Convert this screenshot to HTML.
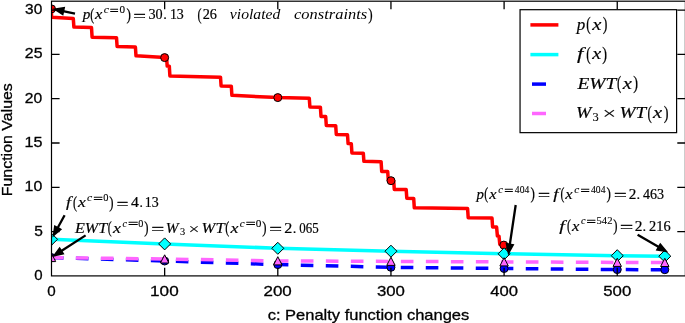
<!DOCTYPE html>
<html><head><meta charset="utf-8"><title>chart</title>
<style>
html,body{margin:0;padding:0;background:#fff;}
svg{display:block;}
.si{font-family:"Liberation Serif",serif;font-style:italic;}
.sr{font-family:"Liberation Serif",serif;}
.ss{font-family:"Liberation Sans",sans-serif;}
text{fill:#000;stroke:#000;}
</style></head><body>
<svg width="685" height="323" viewBox="0 0 685 323">
<rect x="0" y="0" width="685" height="323" fill="#fff"/>
<defs><clipPath id="ax"><rect x="51.5" y="1.2" width="633.9" height="274.7"/></clipPath></defs>
<g clip-path="url(#ax)" fill="none" stroke-linejoin="round">
<polyline points="51.50,8.90 51.50,17.30 73.30,18.60 73.90,27.10 91.50,27.60 92.10,37.20 116.50,37.70 117.10,46.50 135.40,47.00 136.00,55.80 164.85,57.60 166.60,57.80 167.20,66.00 169.30,66.20 169.90,75.90 220.50,77.20 221.10,86.00 231.30,86.20 231.90,95.30 278.00,97.60 309.30,98.30 309.90,107.00 320.40,107.20 321.00,116.40 325.70,116.50 326.30,125.50 335.70,125.70 336.30,134.50 347.50,134.80 348.10,143.60 351.30,143.70 351.90,152.90 363.30,153.20 363.90,161.30 381.10,161.70 381.70,171.40 387.70,171.50 388.30,180.50 391.15,180.70 393.70,180.80 394.30,189.40 406.20,189.60 406.80,198.20 413.70,198.40 414.30,207.80 467.60,208.60 468.20,217.70 492.00,218.00 492.60,227.00 496.60,227.10 497.40,236.00 499.00,236.20 499.80,244.40 504.00,245.10 506.00,245.50 508.40,253.60" stroke="#ff0000" stroke-width="3.5"/>
<circle cx="51.50" cy="8.90" r="4" fill="#ff0000" stroke="#000" stroke-width="1"/>
<circle cx="164.65" cy="57.60" r="4" fill="#ff0000" stroke="#000" stroke-width="1"/>
<circle cx="277.80" cy="97.60" r="4" fill="#ff0000" stroke="#000" stroke-width="1"/>
<circle cx="391.00" cy="180.70" r="4" fill="#ff0000" stroke="#000" stroke-width="1"/>
<circle cx="503.80" cy="245.10" r="4" fill="#ff0000" stroke="#000" stroke-width="1"/>
<polyline points="51.50,239.30 164.65,243.90 277.80,248.30 390.95,251.20 504.10,253.80 617.25,255.70 664.80,256.20" stroke="#00ffff" stroke-width="3.5"/>
<polygon points="51.50,233.30 57.50,239.30 51.50,245.30 45.50,239.30" fill="#00ffff" stroke="#000" stroke-width="1"/>
<polygon points="164.65,237.90 170.65,243.90 164.65,249.90 158.65,243.90" fill="#00ffff" stroke="#000" stroke-width="1"/>
<polygon points="277.80,242.30 283.80,248.30 277.80,254.30 271.80,248.30" fill="#00ffff" stroke="#000" stroke-width="1"/>
<polygon points="390.95,245.20 396.95,251.20 390.95,257.20 384.95,251.20" fill="#00ffff" stroke="#000" stroke-width="1"/>
<polygon points="504.10,247.80 510.10,253.80 504.10,259.80 498.10,253.80" fill="#00ffff" stroke="#000" stroke-width="1"/>
<polygon points="617.25,249.70 623.25,255.70 617.25,261.70 611.25,255.70" fill="#00ffff" stroke="#000" stroke-width="1"/>
<polygon points="664.80,250.20 670.80,256.20 664.80,262.20 658.80,256.20" fill="#00ffff" stroke="#000" stroke-width="1"/>
<polyline points="51.50,257.60 164.65,261.00 277.80,264.60 390.95,267.30 504.10,268.50 617.25,269.60 664.80,269.70" stroke="#0000ff" stroke-width="3.5" stroke-dasharray="12.6 12.4" stroke-dashoffset="0.6"/>
<circle cx="51.50" cy="257.60" r="4" fill="#0000ff" stroke="#000" stroke-width="1"/>
<circle cx="164.65" cy="261.00" r="4" fill="#0000ff" stroke="#000" stroke-width="1"/>
<circle cx="277.80" cy="264.60" r="4" fill="#0000ff" stroke="#000" stroke-width="1"/>
<circle cx="390.95" cy="267.30" r="4" fill="#0000ff" stroke="#000" stroke-width="1"/>
<circle cx="504.10" cy="268.50" r="4" fill="#0000ff" stroke="#000" stroke-width="1"/>
<circle cx="617.25" cy="269.60" r="4" fill="#0000ff" stroke="#000" stroke-width="1"/>
<circle cx="664.80" cy="269.70" r="4" fill="#0000ff" stroke="#000" stroke-width="1"/>
<polyline points="51.50,257.60 164.65,259.00 277.80,260.90 390.95,261.40 504.10,261.90 617.25,262.40 664.80,262.50" stroke="#ff66ff" stroke-width="3.5" stroke-dasharray="12.6 12.4" stroke-dashoffset="0.6"/>
<polygon points="51.50,253.40 55.70,261.60 47.30,261.60" fill="#ff66ff" stroke="#000" stroke-width="1"/>
<polygon points="164.65,254.80 168.85,263.00 160.45,263.00" fill="#ff66ff" stroke="#000" stroke-width="1"/>
<polygon points="277.80,256.70 282.00,264.90 273.60,264.90" fill="#ff66ff" stroke="#000" stroke-width="1"/>
<polygon points="390.95,257.20 395.15,265.40 386.75,265.40" fill="#ff66ff" stroke="#000" stroke-width="1"/>
<polygon points="504.10,257.70 508.30,265.90 499.90,265.90" fill="#ff66ff" stroke="#000" stroke-width="1"/>
<polygon points="617.25,258.20 621.45,266.40 613.05,266.40" fill="#ff66ff" stroke="#000" stroke-width="1"/>
<polygon points="664.80,258.30 669.00,266.50 660.60,266.50" fill="#ff66ff" stroke="#000" stroke-width="1"/>
</g>
<g stroke="#000" stroke-width="1.2" fill="none">
<rect x="51.5" y="1.2" width="633.9" height="274.7"/>
<path d="M164.65,275.9 v-8.1 M164.65,1.2 v8.1 M277.80,275.9 v-8.1 M277.80,1.2 v8.1 M390.95,275.9 v-8.1 M390.95,1.2 v8.1 M504.10,275.9 v-8.1 M504.10,1.2 v8.1 M617.25,275.9 v-8.1 M617.25,1.2 v8.1 M51.5,231.60 h8.1 M685.4,231.60 h-8.1 M51.5,187.30 h8.1 M685.4,187.30 h-8.1 M51.5,143.00 h8.1 M685.4,143.00 h-8.1 M51.5,98.70 h8.1 M685.4,98.70 h-8.1 M51.5,54.40 h8.1 M685.4,54.40 h-8.1 M51.5,10.10 h8.1 M685.4,10.10 h-8.1" stroke-width="1.3"/>
</g>
<polygon points="75.24,12.48 64.47,10.13 65.18,6.86 52.50,8.70 63.27,15.65 63.98,12.38 74.76,14.72" fill="#000"/>
<polygon points="63.59,214.75 57.15,226.52 54.21,224.91 52.40,237.60 62.11,229.23 59.17,227.62 65.61,215.85" fill="#000"/>
<polygon points="84.98,234.43 61.47,249.54 59.66,246.73 52.00,257.00 64.53,254.30 62.72,251.48 86.22,236.37" fill="#000"/>
<polygon points="514.56,204.83 508.83,243.36 505.52,242.87 508.20,255.40 514.42,244.19 511.10,243.70 516.84,205.17" fill="#000"/>
<polygon points="637.02,235.79 657.34,247.58 655.66,250.47 668.30,252.60 660.18,242.69 658.50,245.59 638.18,233.81" fill="#000"/>
<rect x="520.05" y="9.7" width="156.55" height="122.95" fill="#fff" stroke="#000" stroke-width="1.2"/>
<path d="M530.4,24.9 H558.4" stroke="#ff0000" stroke-width="3.5"/>
<path d="M530.4,54.6 H558.4" stroke="#00ffff" stroke-width="3.5"/>
<path d="M532.0,84.1 H546.0" stroke="#0000ff" stroke-width="3.5"/>
<path d="M532.0,113.5 H546.0" stroke="#ff66ff" stroke-width="3.5"/>
<g opacity="0.999">
<text class="si" font-size="14.6" stroke-width="0.2" transform="translate(82.65,19.30) scale(1.0395,1)">p</text>
<text class="sr" font-size="14.6" stroke-width="0.22" transform="translate(90.23,19.60) scale(0.8037,1.12)">(</text>
<text class="si" font-size="14.6" stroke-width="0.2" transform="translate(95.06,19.30) scale(1.1337,1)">x</text>
<text class="si" font-size="10.2" stroke-width="0.1" transform="translate(103.65,13.20) scale(1.1566,1)">c</text>
<text class="sr" font-size="10.2" stroke-width="0.3" transform="translate(109.83,14.11) scale(1.5417,1)">=</text>
<text class="sr" font-size="10.2" stroke-width="0.12" transform="translate(119.42,13.20) scale(1.0909,1)">0</text>
<text class="sr" font-size="14.6" stroke-width="0.22" transform="translate(126.39,19.60) scale(0.9025,1.12)">)</text>
<text class="sr" font-size="14.6" stroke-width="0.45" transform="translate(133.48,20.60) scale(1.4904,1)">=</text>
<text class="sr" font-size="14.6" stroke-width="0.22" transform="translate(148.43,19.30) scale(0.9733,1)">30</text>
<text class="sr" font-size="14.6" stroke-width="0.22" transform="translate(163.20,19.30) scale(0.9863,1)">.</text>
<text class="sr" font-size="14.6" stroke-width="0.22" transform="translate(169.91,19.30) scale(0.9536,1)">13</text>
<text class="sr" font-size="14.6" stroke-width="0.22" transform="translate(197.62,19.60) scale(0.8280,1.12)">(</text>
<text class="sr" font-size="14.6" stroke-width="0.22" transform="translate(202.65,19.30) scale(0.9773,1)">26</text>
<text class="si" font-size="14.6" stroke-width="0" transform="translate(229.80,19.30) scale(1.0771,1)">violated</text>
<text class="si" font-size="14.6" stroke-width="0" transform="translate(294.04,19.30) scale(1.1272,1)">constraints</text>
<text class="sr" font-size="14.6" stroke-width="0.22" transform="translate(368.19,19.60) scale(0.9025,1.12)">)</text>
<text class="si" font-size="14.6" stroke="#fff" stroke-width="0.18" transform="translate(66.10,207.40) scale(1.2308,1)">f</text>
<text class="sr" font-size="14.6" stroke-width="0.22" transform="translate(73.02,207.70) scale(0.8280,1.12)">(</text>
<text class="si" font-size="14.6" stroke="#fff" stroke-width="0.18" transform="translate(77.98,207.40) scale(1.2093,1)">x</text>
<text class="si" font-size="10.2" stroke-width="0.1" transform="translate(86.95,201.30) scale(1.1566,1)">c</text>
<text class="sr" font-size="10.2" stroke-width="0.3" transform="translate(93.16,202.21) scale(1.6875,1)">=</text>
<text class="sr" font-size="10.2" stroke-width="0.12" transform="translate(103.34,201.30) scale(1.0227,1)">0</text>
<text class="sr" font-size="14.6" stroke-width="0.22" transform="translate(109.20,207.70) scale(0.8767,1.12)">)</text>
<text class="sr" font-size="14.6" stroke-width="0.45" transform="translate(116.84,208.70) scale(1.4027,1)">=</text>
<text class="sr" font-size="14.6" stroke-width="0.22" transform="translate(130.95,207.40) scale(1.0813,1)">4</text>
<text class="sr" font-size="14.6" stroke-width="0.22" transform="translate(139.45,207.40) scale(0.9315,1)">.</text>
<text class="sr" font-size="14.6" stroke-width="0.22" transform="translate(144.81,207.40) scale(0.9536,1)">13</text>
<text class="si" font-size="14.6" stroke="#fff" stroke-width="0.18" transform="translate(74.95,232.60) scale(1.1073,1)">EWT</text>
<text class="sr" font-size="14.6" stroke-width="0.22" transform="translate(107.83,232.90) scale(0.8037,1.12)">(</text>
<text class="si" font-size="14.6" stroke="#fff" stroke-width="0.18" transform="translate(112.98,232.60) scale(1.2395,1)">x</text>
<text class="si" font-size="10.2" stroke-width="0.12" transform="translate(122.50,226.50) scale(0.9880,1)">c</text>
<text class="sr" font-size="10.2" stroke-width="0.3" transform="translate(127.90,227.41) scale(1.7917,1)">=</text>
<text class="sr" font-size="10.2" stroke-width="0.12" transform="translate(138.35,226.50) scale(1.0000,1)">0</text>
<text class="sr" font-size="14.6" stroke-width="0.22" transform="translate(144.20,232.90) scale(0.8767,1.12)">)</text>
<text class="sr" font-size="14.6" stroke-width="0.45" transform="translate(151.45,233.90) scale(1.5342,1)">=</text>
<text class="si" font-size="14.6" stroke="#fff" stroke-width="0.18" transform="translate(165.84,232.60) scale(1.0521,1)">W</text>
<text class="sr" font-size="10.2" stroke-width="0.12" transform="translate(179.94,234.90) scale(1.0233,1)">3</text>
<text class="sr" font-size="14.6" stroke-width="0.1" transform="translate(188.38,233.50) scale(1.3313,1)">×</text>
<text class="si" font-size="14.6" stroke="#fff" stroke-width="0.18" transform="translate(201.56,232.60) scale(1.1387,1)">WT</text>
<text class="sr" font-size="14.6" stroke-width="0.22" transform="translate(225.22,232.90) scale(0.8280,1.12)">(</text>
<text class="si" font-size="14.6" stroke="#fff" stroke-width="0.18" transform="translate(230.38,232.60) scale(1.2395,1)">x</text>
<text class="si" font-size="10.2" stroke-width="0.12" transform="translate(239.87,226.50) scale(1.0843,1)">c</text>
<text class="sr" font-size="10.2" stroke-width="0.3" transform="translate(245.75,227.41) scale(1.7083,1)">=</text>
<text class="sr" font-size="10.2" stroke-width="0.12" transform="translate(255.71,226.50) scale(1.1136,1)">0</text>
<text class="sr" font-size="14.6" stroke-width="0.22" transform="translate(262.20,232.90) scale(0.8767,1.12)">)</text>
<text class="sr" font-size="14.6" stroke-width="0.45" transform="translate(269.47,233.90) scale(1.5050,1)">=</text>
<text class="sr" font-size="14.6" stroke-width="0.22" transform="translate(284.30,232.60) scale(1.1040,1)">2</text>
<text class="sr" font-size="14.6" stroke-width="0.22" transform="translate(292.80,232.60) scale(0.9863,1)">.</text>
<text class="sr" font-size="14.6" stroke-width="0.22" transform="translate(299.30,232.60) scale(0.8862,1)">065</text>
<text class="si" font-size="14.6" stroke-width="0.2" transform="translate(476.53,199.00) scale(1.0145,1)">p</text>
<text class="sr" font-size="14.6" stroke-width="0.22" transform="translate(484.23,199.30) scale(0.8037,1.12)">(</text>
<text class="si" font-size="14.6" stroke-width="0.2" transform="translate(489.26,199.00) scale(1.1337,1)">x</text>
<text class="si" font-size="10.2" stroke-width="0.12" transform="translate(498.29,192.90) scale(1.0361,1)">c</text>
<text class="sr" font-size="10.2" stroke-width="0.3" transform="translate(504.21,193.81) scale(1.5833,1)">=</text>
<text class="sr" font-size="10.2" stroke-width="0.12" transform="translate(514.86,192.90) scale(0.9400,1)">404</text>
<text class="sr" font-size="14.6" stroke-width="0.22" transform="translate(530.59,199.30) scale(0.9025,1.12)">)</text>
<text class="sr" font-size="14.6" stroke-width="0.45" transform="translate(538.00,200.30) scale(1.4612,1)">=</text>
<text class="si" font-size="14.6" stroke="#fff" stroke-width="0.18" transform="translate(553.20,199.00) scale(1.2813,1)">f</text>
<text class="sr" font-size="14.6" stroke-width="0.22" transform="translate(560.43,199.30) scale(0.8037,1.12)">(</text>
<text class="si" font-size="14.6" stroke-width="0.2" transform="translate(565.26,199.00) scale(1.1337,1)">x</text>
<text class="si" font-size="10.2" stroke-width="0.12" transform="translate(574.27,192.90) scale(1.1084,1)">c</text>
<text class="sr" font-size="10.2" stroke-width="0.3" transform="translate(580.39,193.81) scale(1.6250,1)">=</text>
<text class="sr" font-size="10.2" stroke-width="0.12" transform="translate(591.06,192.90) scale(0.9400,1)">404</text>
<text class="sr" font-size="14.6" stroke-width="0.22" transform="translate(606.39,199.30) scale(0.9025,1.12)">)</text>
<text class="sr" font-size="14.6" stroke-width="0.45" transform="translate(613.96,200.30) scale(1.5196,1)">=</text>
<text class="sr" font-size="14.6" stroke-width="0.22" transform="translate(628.83,199.00) scale(1.0391,1)">2</text>
<text class="sr" font-size="14.6" stroke-width="0.22" transform="translate(636.60,199.00) scale(0.9863,1)">.</text>
<text class="sr" font-size="14.6" stroke-width="0.22" transform="translate(642.88,199.00) scale(0.9616,1)">463</text>
<text class="si" font-size="14.6" stroke="#fff" stroke-width="0.18" transform="translate(559.20,230.50) scale(1.3656,1)">f</text>
<text class="sr" font-size="14.6" stroke-width="0.22" transform="translate(566.93,230.80) scale(0.8037,1.12)">(</text>
<text class="si" font-size="14.6" stroke-width="0.2" transform="translate(571.96,230.50) scale(1.1488,1)">x</text>
<text class="si" font-size="10.2" stroke-width="0.12" transform="translate(580.90,224.40) scale(1.0120,1)">c</text>
<text class="sr" font-size="10.2" stroke-width="0.3" transform="translate(586.48,225.31) scale(1.6458,1)">=</text>
<text class="sr" font-size="10.2" stroke-width="0.12" transform="translate(596.53,224.40) scale(1.0423,1)">542</text>
<text class="sr" font-size="14.6" stroke-width="0.22" transform="translate(613.20,230.80) scale(0.8767,1.12)">)</text>
<text class="sr" font-size="14.6" stroke-width="0.45" transform="translate(619.91,231.80) scale(1.5927,1)">=</text>
<text class="sr" font-size="14.6" stroke-width="0.22" transform="translate(634.82,230.50) scale(1.0553,1)">2</text>
<text class="sr" font-size="14.6" stroke-width="0.22" transform="translate(642.40,230.50) scale(0.9863,1)">.</text>
<text class="sr" font-size="14.6" stroke-width="0.22" transform="translate(649.05,230.50) scale(0.9851,1)">216</text>
<text class="si" font-size="16.4" stroke-width="0.2" transform="translate(576.66,29.60) scale(1.0369,1)">p</text>
<text class="sr" font-size="16.4" stroke-width="0.22" transform="translate(586.19,29.90) scale(0.8022,1.12)">(</text>
<text class="si" font-size="16.4" stroke="#fff" stroke-width="0.18" transform="translate(592.22,29.60) scale(1.2515,1)">x</text>
<text class="sr" font-size="16.4" stroke-width="0.22" transform="translate(602.86,29.90) scale(0.8494,1.12)">)</text>
<text class="si" font-size="16.4" stroke="#fff" stroke-width="0.18" transform="translate(577.10,59.30) scale(1.3959,1)">f</text>
<text class="sr" font-size="16.4" stroke-width="0.22" transform="translate(586.19,59.60) scale(0.8022,1.12)">(</text>
<text class="si" font-size="16.4" stroke="#fff" stroke-width="0.18" transform="translate(592.21,59.30) scale(1.2246,1)">x</text>
<text class="sr" font-size="16.4" stroke-width="0.22" transform="translate(602.35,59.60) scale(0.8723,1.12)">)</text>
<text class="si" font-size="16.4" stroke="#fff" stroke-width="0.18" transform="translate(577.40,89.00) scale(1.1847,1)">EWT</text>
<text class="sr" font-size="16.4" stroke-width="0.22" transform="translate(617.10,89.30) scale(0.7805,1.12)">(</text>
<text class="si" font-size="16.4" stroke="#fff" stroke-width="0.18" transform="translate(622.72,89.00) scale(1.2515,1)">x</text>
<text class="sr" font-size="16.4" stroke-width="0.22" transform="translate(633.35,89.30) scale(0.8723,1.12)">)</text>
<text class="si" font-size="16.4" stroke="#fff" stroke-width="0.18" transform="translate(575.95,118.30) scale(1.1211,1)">W</text>
<text class="sr" font-size="11.5" stroke-width="0.12" transform="translate(592.40,121.00) scale(1.0833,1)">3</text>
<text class="sr" font-size="16.4" stroke-width="0.1" transform="translate(602.51,119.31) scale(1.4743,1)">×</text>
<text class="si" font-size="16.4" stroke="#fff" stroke-width="0.18" transform="translate(619.40,118.30) scale(1.1710,1)">WT</text>
<text class="sr" font-size="16.4" stroke-width="0.22" transform="translate(647.40,118.60) scale(0.7805,1.12)">(</text>
<text class="si" font-size="16.4" stroke="#fff" stroke-width="0.18" transform="translate(653.02,118.30) scale(1.2515,1)">x</text>
<text class="sr" font-size="16.4" stroke-width="0.22" transform="translate(663.65,118.60) scale(0.8723,1.12)">)</text>
<text class="ss" font-size="15.0" stroke-width="0.3" transform="translate(150.08,295.62) scale(1.1427,1)">100</text>
<text class="ss" font-size="15.0" stroke-width="0.3" transform="translate(263.50,295.62) scale(1.1315,1)">200</text>
<text class="ss" font-size="15.0" stroke-width="0.3" transform="translate(376.92,295.62) scale(1.1205,1)">300</text>
<text class="ss" font-size="15.0" stroke-width="0.3" transform="translate(490.34,295.62) scale(1.1098,1)">400</text>
<text class="ss" font-size="15.0" stroke-width="0.3" transform="translate(603.22,295.62) scale(1.1205,1)">500</text>
<text class="ss" font-size="15.0" stroke-width="0.3" transform="translate(47.23,295.62) scale(1.0133,1)">0</text>
<text class="ss" font-size="15.0" stroke-width="0.3" transform="translate(24.61,191.49) scale(1.0603,1)">10</text>
<text class="ss" font-size="15.0" stroke-width="0.3" transform="translate(24.59,147.10) scale(1.0767,1)">15</text>
<text class="ss" font-size="15.0" stroke-width="0.3" transform="translate(24.87,102.71) scale(1.0443,1)">20</text>
<text class="ss" font-size="15.0" stroke-width="0.3" transform="translate(24.85,58.32) scale(1.0603,1)">25</text>
<text class="ss" font-size="15.0" stroke-width="0.3" transform="translate(25.12,13.93) scale(1.0289,1)">30</text>
<text class="ss" font-size="15.0" stroke-width="0.3" transform="translate(34.22,235.88) scale(1.0323,1)">5</text>
<text class="ss" font-size="15.0" stroke-width="0.3" transform="translate(34.23,280.27) scale(1.0000,1)">0</text>
<text class="ss" font-size="14.8" stroke-width="0.3" transform="translate(267.68,319.90) scale(1.1151,1)">c: Penalty function changes</text>
<text class="ss" font-size="14.8" stroke-width="0.3" transform="translate(11.80,196.25) rotate(-90) scale(1.0772,1)">Function Values</text>
</g>
</svg></body></html>
